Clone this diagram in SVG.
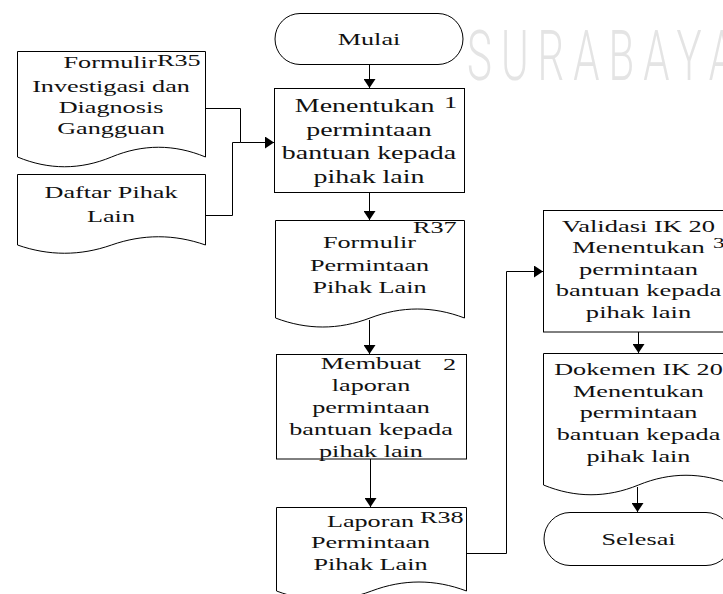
<svg xmlns="http://www.w3.org/2000/svg" width="723" height="594" viewBox="0 0 723 594">
  <style>
    .shape { fill: #fff; stroke: #000; stroke-width: 1; }
    .conn { fill: none; stroke: #000; stroke-width: 1; }
    .t { font-family: "Liberation Serif", "Times New Roman", serif; fill: #111; text-anchor: middle; }
    .s { text-anchor: start; }
    .f17 { font-size: 17px; }
    .f19 { font-size: 19px; }
    .f15 { font-size: 15px; }
    .wm { font-family: Roboto, "Liberation Sans", sans-serif; font-weight: 300; font-size: 70px; fill: #e4e4e4; letter-spacing: 15px; }
  </style>
  <defs>
    <marker id="arrow" viewBox="0 0 9 12" refX="9" refY="6" markerWidth="9" markerHeight="12" markerUnits="userSpaceOnUse" orient="auto">
      <path d="M0,0 L9,6 L0,12 Z" fill="#000"/>
    </marker>
  </defs>

  <!-- watermark -->
  <g id="watermark" transform="translate(467 80) scale(0.6 1)">
    <text class="wm" x="0" y="0">SURABAYA</text>
  </g>

  <!-- connectors -->
  <g id="connectors">
    <path class="conn" d="M369.5,64 V88" marker-end="url(#arrow)"/>
    <path class="conn" d="M205.5,108.5 H240.5 V142.5 H274" marker-end="url(#arrow)"/>
    <path class="conn" d="M205.5,215.5 H232.5 V142.5 H240.5"/>
    <path class="conn" d="M369.5,193 V220" marker-end="url(#arrow)"/>
    <path class="conn" d="M369.5,320 V354" marker-end="url(#arrow)"/>
    <path class="conn" d="M370.5,459 V507" marker-end="url(#arrow)"/>
    <path class="conn" d="M466.5,553.5 H506.5 V271.5 H543" marker-end="url(#arrow)"/>
    <path class="conn" d="M638.5,332 V353" marker-end="url(#arrow)"/>
    <path class="conn" d="M637.5,487 V512" marker-end="url(#arrow)"/>
  </g>

  <!-- start terminator -->
  <g id="mulai">
    <path class="shape" d="M300,13.5 H438 A25,25.5 0 0 1 438,64.5 H300 A25,25.5 0 0 1 300,13.5 Z"/>
    <g transform="translate(369 0) scale(1.54 1)"><text class="t f17" x="0" y="45">Mulai</text></g>
  </g>

  <!-- input document R35 -->
  <g id="doc-r35">
    <path class="shape" d="M17.5,51.5 H205.5 V157 C174.2,144 142.8,144 111.5,157 C80.2,170 48.8,170 17.5,157 Z"/>
    <g transform="translate(111 0) scale(1.54 1)">
      <text class="t f17" x="-0.6" y="68">Formulir</text>
      <text class="t f17" x="0" y="92">Investigasi dan</text>
      <text class="t f17" x="0" y="113">Diagnosis</text>
      <text class="t f17" x="0" y="134">Gangguan</text>
    </g>
    <g transform="translate(157 0) scale(1.54 1)"><text class="t s f17" x="0" y="66">R35</text></g>
  </g>

  <!-- input document: list of other parties -->
  <g id="doc-daftar">
    <path class="shape" d="M17.5,174.5 H205.5 V245 C174.2,234 142.8,234 111.5,245 C80.2,256 48.8,256 17.5,245 Z"/>
    <g transform="translate(111 0) scale(1.54 1)">
      <text class="t f17" x="0" y="198">Daftar Pihak</text>
      <text class="t f17" x="0" y="222">Lain</text>
    </g>
  </g>

  <!-- process 1 -->
  <g id="proc-1">
    <rect class="shape" x="274.5" y="88.5" width="190" height="104"/>
    <g transform="translate(369 0) scale(1.47 1)">
      <text class="t f19" x="-3" y="112">Menentukan</text>
      <text class="t f19" x="0" y="136">permintaan</text>
      <text class="t f19" x="0" y="159.5">bantuan kepada</text>
      <text class="t f19" x="0" y="183">pihak lain</text>
    </g>
    <g transform="translate(444 0) scale(1.54 1)"><text class="t s f17" x="0" y="108">1</text></g>
  </g>

  <!-- document R37 -->
  <g id="doc-r37">
    <path class="shape" d="M275.5,220.5 H464.5 V318 C433,306 401.5,306 370,318 C338.5,330 307,330 275.5,318 Z"/>
    <g transform="translate(369.5 0) scale(1.54 1)">
      <text class="t f17" x="0" y="248">Formulir</text>
      <text class="t f17" x="0" y="271">Permintaan</text>
      <text class="t f17" x="0" y="293">Pihak Lain</text>
    </g>
    <g transform="translate(413 0) scale(1.54 1)"><text class="t s f17" x="0" y="233">R37</text></g>
  </g>

  <!-- process 2 -->
  <g id="proc-2">
    <rect class="shape" x="276.5" y="354.5" width="190" height="104.5"/>
    <g transform="translate(371 0) scale(1.54 1)">
      <text class="t f17" x="0" y="369">Membuat</text>
      <text class="t f17" x="0" y="391">laporan</text>
      <text class="t f17" x="0" y="413">permintaan</text>
      <text class="t f17" x="0" y="435">bantuan kepada</text>
      <text class="t f17" x="0" y="457">pihak lain</text>
    </g>
    <g transform="translate(443 0) scale(1.54 1)"><text class="t s f17" x="0" y="370">2</text></g>
  </g>

  <!-- document R38 -->
  <g id="doc-r38">
    <path class="shape" d="M276.5,507.5 H466.5 V591 C434.8,579 403.2,579 371.5,591 C339.8,603 308.2,603 276.5,591 Z"/>
    <g transform="translate(370.5 0) scale(1.54 1)">
      <text class="t f17" x="0" y="527">Laporan</text>
      <text class="t f17" x="0" y="548">Permintaan</text>
      <text class="t f17" x="0" y="570">Pihak Lain</text>
    </g>
    <g transform="translate(420 0) scale(1.54 1)"><text class="t s f17" x="0" y="523">R38</text></g>
  </g>

  <!-- process 3: validation -->
  <g id="proc-3">
    <rect class="shape" x="543.5" y="210.5" width="190" height="121.5"/>
    <g transform="translate(638.5 0) scale(1.56 1)">
      <text class="t f17" x="0" y="232">Validasi IK 20</text>
      <text class="t f17" x="0" y="253.5">Menentukan</text>
      <text class="t f17" x="0" y="275">permintaan</text>
      <text class="t f17" x="0" y="296.5">bantuan kepada</text>
      <text class="t f17" x="0" y="318">pihak lain</text>
    </g>
    <g transform="translate(713 0) scale(1.54 1)"><text class="t s f15" x="0" y="248">3</text></g>
  </g>

  <!-- document IK 20 -->
  <g id="doc-ik20">
    <path class="shape" d="M543.5,353.5 H733.5 V485 C701.8,472 670.2,472 638.5,485 C606.8,498 575.2,498 543.5,485 Z"/>
    <g transform="translate(638.5 0) scale(1.54 1)">
      <text class="t f17" x="0" y="375">Dokemen IK 20</text>
      <text class="t f17" x="0" y="396.8">Menentukan</text>
      <text class="t f17" x="0" y="418.5">permintaan</text>
      <text class="t f17" x="0" y="440.3">bantuan kepada</text>
      <text class="t f17" x="0" y="462">pihak lain</text>
    </g>
  </g>

  <!-- end terminator -->
  <g id="selesai">
    <path class="shape" d="M570,512.5 H706 A26,26.5 0 0 1 706,565.5 H570 A26,26.5 0 0 1 570,512.5 Z"/>
    <g transform="translate(638.5 0) scale(1.54 1)"><text class="t f17" x="0" y="545">Selesai</text></g>
  </g>
</svg>
